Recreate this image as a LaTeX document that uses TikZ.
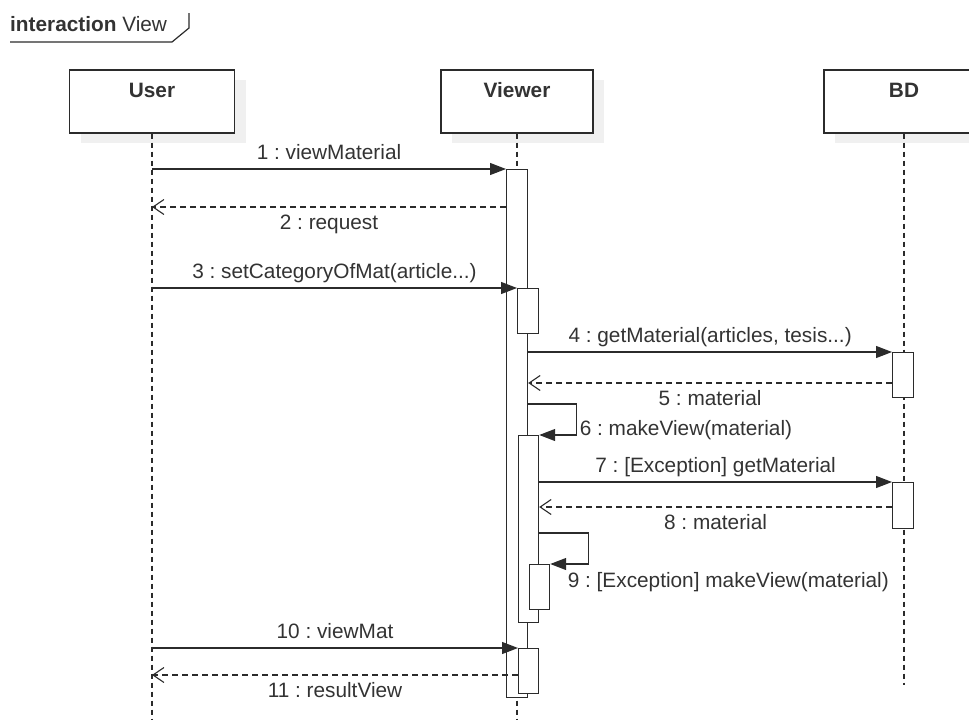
\documentclass[tikz,border=0pt]{standalone}
\usepackage{fontspec}
\setmainfont{Liberation Sans}
\usepackage{tikz}
\usetikzlibrary{arrows.meta,positioning,shadows,calc}
\definecolor{linegray}{HTML}{2B2B2B}
\definecolor{textgray}{HTML}{333333}
\definecolor{shadowgray}{HTML}{F0F0F0}
\frenchspacing
\tikzset{
  headbox/.style={rectangle,draw=linegray,line width=1.3pt,fill=white,
    minimum height=63pt,inner xsep=0pt,inner ysep=12.5pt,
    text height=15pt,text depth=23pt,text=textgray,
    font=\fontsize{20.8}{25}\selectfont\bfseries,
    general shadow={fill=shadowgray,shadow xshift=11pt,shadow yshift=-10pt}},
  actbox/.style={rectangle,draw=linegray,line width=1.2pt,fill=white,
    anchor=north west,minimum width=21pt,inner sep=0pt},
  lifeline/.style={draw=linegray,line width=1.2pt,dash pattern=on 5pt off 4pt},
  call/.style={-{Triangle[length=16pt,width=12pt]},draw=linegray,line width=1.2pt},
  reply/.style={-{Straight Barb[length=11pt,width=15pt]},draw=linegray,
    line width=1.1pt,dash pattern=on 6pt off 4pt},
  msglabel/.style={font=\fontsize{20.8}{25}\selectfont,text=textgray,
    inner sep=0pt,text height=15pt,text depth=4pt},
}

\begin{document}
\begin{tikzpicture}[x=1pt,y=-1pt]
  \useasboundingbox (0,0) rectangle (969,720);

  % frame
  \node[msglabel,anchor=base west] (frame) at (10,31.5) {\textbf{interaction} View};
  \draw[linegray,line width=1.2pt] (10,42) -- (172,42) -- (189,28) -- (189,13);

  % lifelines
  \node[headbox,minimum width=165pt] (user) at (152,101.5) {User};
  \node[headbox,minimum width=152pt] (viewer) at (517,101.5) {Viewer};
  \node[headbox,minimum width=160pt] (bd) at (904,101.5) {BD};
  \coordinate (bottom) at (0,720);
  \coordinate (bdend) at (0,685);
  \draw[lifeline] (user.south) -- (user.south |- bottom);
  \draw[lifeline] (viewer.south) -- (viewer.south |- bottom);
  \draw[lifeline] (bd.south) -- (bd.south |- bdend);

  % activations
  \node[actbox,minimum height=528pt] (a1) at (506,169) {};
  \node[actbox,minimum height=45pt] (a3) at (517,288) {};
  \node[actbox,minimum width=20pt,minimum height=187pt] (a6) at (518,435) {};
  \node[actbox,minimum width=20pt,minimum height=45pt] (a9) at (529,564) {};
  \node[actbox,minimum width=20pt,minimum height=45pt] (a10) at (518,648) {};
  \node[actbox,minimum height=45pt] (a4) at (892,352) {};
  \node[actbox,minimum height=46pt] (a7) at (892,482) {};

  % message rows
  \coordinate (r2) at (0,207);
  \coordinate (r5) at (0,383);
  \coordinate (r6) at (0,404);
  \coordinate (r8) at (0,507);
  \coordinate (r9) at (0,533);
  \coordinate (r11) at (0,675);

  % messages
  \draw[call] (user.south |- a1.north) -- (a1.north west)
    node[msglabel,midway,above=5pt] {1 : viewMaterial};
  \draw[reply] (a1.west |- r2) -- (user.south |- r2)
    node[msglabel,midway,below=7pt] {2 : request};
  \draw[call] (user.south |- a3.north) -- (a3.north west)
    node[msglabel,midway,above=5pt] {3 : setCategoryOfMat(article...)};
  \draw[call] (a1.east |- a4.north) -- (a4.north west)
    node[msglabel,midway,above=5pt] {4 : getMaterial(articles, tesis...)};
  \draw[reply] (a4.west |- r5) -- (a1.east |- r5)
    node[msglabel,midway,below=7pt] {5 : material};
  \draw[call] (a1.east |- r6) -- ++(48,0) |- (a6.north east)
    node[msglabel,pos=0.5,anchor=base west,xshift=3pt] {6 : makeView(material)};
  \draw[call] (a6.east |- a7.north) -- (a7.north west)
    node[msglabel,midway,above=5pt] {7 : [Exception] getMaterial};
  \draw[reply] (a7.west |- r8) -- (a6.east |- r8)
    node[msglabel,midway,below=7pt] {8 : material};
  \draw[call] (a6.east |- r9) -- ++(49,0) |- (a9.north east)
    node[msglabel,pos=0.5,anchor=base west,xshift=-21pt,yshift=-23.5pt] {9 : [Exception] makeView(material)};
  \draw[call] (user.south |- a10.north) -- (a10.north west)
    node[msglabel,midway,above=5pt] {10 : viewMat};
  \draw[reply] (a10.west |- r11) -- (user.south |- r11)
    node[msglabel,midway,below=7pt] {11 : resultView};
\end{tikzpicture}
\end{document}
